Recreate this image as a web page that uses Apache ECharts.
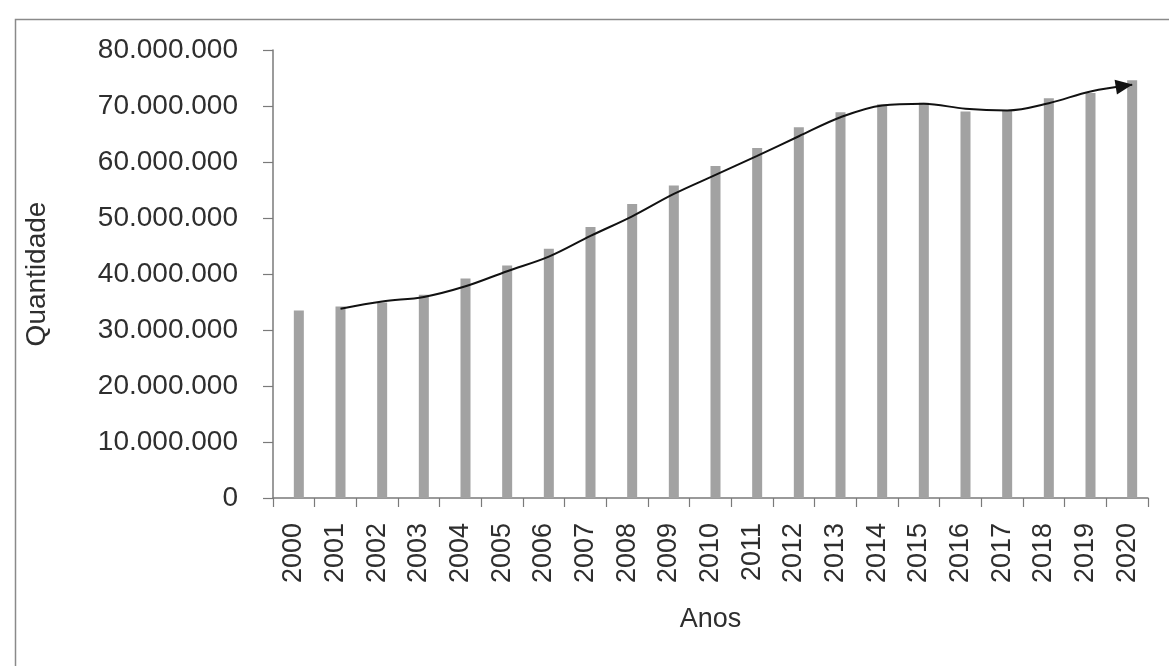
<!DOCTYPE html>
<html>
<head>
<meta charset="utf-8">
<title>Quantidade por ano</title>
<script src="https://cdn.jsdelivr.net/npm/echarts@6/dist/echarts.min.js"></script>
<style>
  html, body { margin: 0; padding: 0; background: #ffffff; }
  #chart { width: 1169px; height: 666px; }
</style>
</head>
<body>
<div id="chart"></div>
<script>
// Years on the category axis
const years = ['2000','2001','2002','2003','2004','2005','2006','2007','2008','2009','2010',
               '2011','2012','2013','2014','2015','2016','2017','2018','2019','2020'];

// Yearly quantity (bars)
const quantities = [33500000, 34200000, 34900000, 36300000, 39200000, 41500000, 44500000,
                    48400000, 52500000, 55800000, 59300000, 62500000, 66200000, 68900000,
                    70300000, 70600000, 69000000, 69200000, 71400000, 72300000, 74600000];

// Trend curve, drawn from 2001 onwards (null = no point)
const trend = [null, 33800000, 35100000, 35900000, 37800000, 40500000, 43100000, 46800000,
               50300000, 54300000, 57700000, 61100000, 64600000, 68000000, 70100000,
               70400000, 69500000, 69200000, 70500000, 72600000, 73800000];

// Y axis ticks
const yMin = 0, yMax = 80000000, yStep = 10000000;

const FONT = '"Liberation Sans", Arial, sans-serif';
const TEXT = '#2e2e2e';
const AXIS = '#7a7a7a';

// Bars sit in the right half of each category slot; the trend follows the bar centres
const BAR_W = 10;
const SLOT = (1148 - 273) / years.length;
const lineShift = (BAR_W / 2) / SLOT;

function fmtThousands(v) {
  return String(Math.round(v)).replace(/\B(?=(\d{3})+(?!\d))/g, '.');
}

const trendPoints = [];
trend.forEach((v, i) => {
  if (v == null) return;
  const isLast = i === trend.length - 1;
  trendPoints.push(isLast
    ? { value: [i + lineShift, v], symbol: 'triangle', symbolSize: [15, 17],
        symbolRotate: -81, symbolOffset: [-8, 1],
        itemStyle: { color: '#111111' } }
    : { value: [i + lineShift, v], symbol: 'none' });
});

const chart = echarts.init(document.getElementById('chart'), null, { renderer: 'canvas' });

chart.setOption({
  backgroundColor: '#ffffff',
  animation: false,
  graphic: [{
    type: 'rect',
    left: 13, top: 17,
    shape: { width: 1200, height: 700 },
    style: { fill: 'none', stroke: '#8a8a8a', lineWidth: 1.5 },
    silent: true
  }],
  grid: { left: 273, right: 21, top: 50, bottom: 168, containLabel: false },
  xAxis: [{
    type: 'category',
    data: years,
    boundaryGap: true,
    name: 'Anos',
    nameLocation: 'middle',
    nameGap: 108,
    nameTextStyle: { fontFamily: FONT, fontSize: 27, color: TEXT },
    axisLine: { lineStyle: { color: AXIS, width: 1.5 } },
    axisTick: { show: true, alignWithLabel: false, length: 9, lineStyle: { color: AXIS, width: 1.2 } },
    axisLabel: { rotate: 90, margin: 25, interval: 0, fontFamily: FONT, fontSize: 27, color: TEXT },
    splitLine: { show: false }
  }, {
    // numeric twin of the category axis, used to place the trend curve
    type: 'value',
    min: -0.5, max: years.length - 0.5,
    show: false
  }],
  yAxis: {
    type: 'value',
    min: yMin, max: yMax, interval: yStep,
    name: 'Quantidade',
    nameLocation: 'middle',
    nameRotate: 90,
    nameGap: 222,
    nameTextStyle: { fontFamily: FONT, fontSize: 28, color: TEXT },
    axisLine: { show: true, onZero: false, lineStyle: { color: AXIS, width: 1.5 } },
    axisTick: { show: true, length: 10, lineStyle: { color: AXIS, width: 1.2 } },
    axisLabel: { margin: 35, fontFamily: FONT, fontSize: 28, color: TEXT, formatter: fmtThousands },
    splitLine: { show: false }
  },
  series: [{
    // empty left half of each slot
    type: 'bar',
    xAxisIndex: 0,
    data: years.map(() => '-'),
    barWidth: BAR_W,
    barGap: '0%'
  }, {
    name: 'Quantidade',
    type: 'bar',
    xAxisIndex: 0,
    data: quantities,
    barWidth: BAR_W,
    barGap: '0%',
    itemStyle: { color: '#a2a2a2' }
  }, {
    name: 'Tendência',
    type: 'line',
    xAxisIndex: 1,
    data: trendPoints,
    smooth: 0.35,
    showSymbol: true,
    lineStyle: { color: '#111111', width: 2 },
    z: 5
  }]
});
</script>
</body>
</html>
